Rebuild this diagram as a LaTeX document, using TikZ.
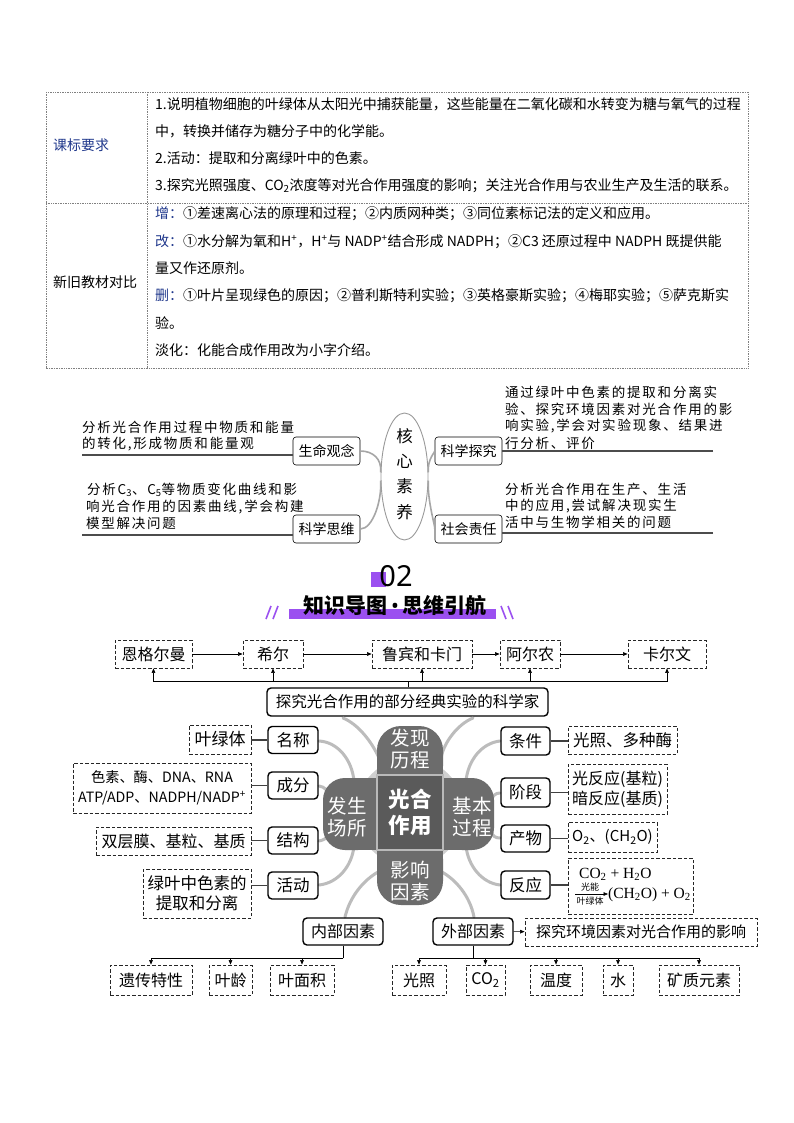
\documentclass[tikz,border=0pt]{standalone}
\usepackage{fontspec}
\setmainfont{Noto Sans CJK SC}
\newfontfamily\litfont[LetterSpace=13]{Noto Sans CJK SC}
\newfontfamily\timesf{Liberation Serif}
\newfontfamily\latinsans{Noto Sans}
\usetikzlibrary{arrows.meta,shapes.geometric}
\newcommand\fsz[2]{\fontsize{#1}{#2}\selectfont}
\definecolor{navy}{RGB}{32,56,140}
\definecolor{purp}{RGB}{155,80,240}
\definecolor{petalc}{RGB}{108,108,108}
\definecolor{sqc}{RGB}{90,90,90}
\definecolor{tentc}{RGB}{188,188,188}
\begin{document}
\begin{tikzpicture}[x=1pt,y=-1pt,
  tabline/.style={densely dotted, gray, line width=0.7pt},
  tt/.style={anchor=west, inner sep=0pt, font=\fsz{14}{14}},
  lt/.style={anchor=west, inner sep=0pt, font=\litfont\fsz{13.5}{13.5}},
  litbox/.style={draw, rounded corners=3pt, line width=0.6pt, minimum width=67pt, minimum height=28pt, inner sep=0pt, font=\fsz{14}{14}},
  litline/.style={draw=black!70, line width=1.1pt},
  litcurve/.style={draw=gray!70, line width=1.6pt},
  dbox/.style={draw=black!85, dash pattern=on 3.5pt off 2pt, line width=0.8pt, inner sep=0pt, align=center},
  sbox/.style={draw, rounded corners=4pt, line width=1.4pt, inner sep=0pt, align=center},
  arr/.style={-{Triangle[length=4.5pt,width=3.6pt]}, line width=0.6pt},
  conn/.style={draw=black!75, line width=1.3pt},
  tent/.style={draw=tentc, line width=3pt, line cap=round},
  ptxt/.style={text=white, align=center, font=\fsz{19.5}{22}, inner sep=0pt}
]
\useasboundingbox (0,0) rectangle (794,1123);
\fill[white] (0,0) rectangle (794,1123);

% ---------------- table ----------------
\draw[tabline] (46,92) rectangle (748,368);
\draw[tabline] (147,92) -- (147,368);
\draw[tabline] (46,203) -- (748,203);
\node[tt, text=navy] (k1) at (53,145) {课标要求};
\node[tt] (k2) at (53,282) {新旧教材对比};
\node[tt] (a1) at (155,104) {1.说明植物细胞的叶绿体从太阳光中捕获能量，这些能量在二氧化碳和水转变为糖与氧气的过程};
\node[tt] (a2) at (155,131) {中，转换并储存为糖分子中的化学能。};
\node[tt] (a3) at (155,158) {2.活动：提取和分离绿叶中的色素。};
\node[tt] (a4) at (155,186) {3.探究光照强度、CO\textsubscript{2}浓度等对光合作用强度的影响；关注光合作用与农业生产及生活的联系。};
\node[tt] (b1) at (155,214) {{\color{navy}增：}①差速离心法的原理和过程；②内质网种类；③同位素标记法的定义和应用。};
\node[tt] (b2) at (155,242) {{\color{navy}改：}①水分解为氧和H\textsuperscript{+}，H\textsuperscript{+}与 NADP\textsuperscript{+}结合形成 NADPH；②C3 还原过程中 NADPH 既提供能};
\node[tt] (b3) at (155,268) {量又作还原剂。};
\node[tt] (b4) at (155,296) {{\color{navy}删：}①叶片呈现绿色的原因；②普利斯特利实验；③英格豪斯实验；④梅耶实验；⑤萨克斯实};
\node[tt] (b5) at (155,323) {验。};
\node[tt] (b6) at (155,350) {淡化：化能合成作用改为小字介绍。};

% ---------------- core literacy ----------------
\node[ellipse, draw=gray!80, line width=0.9pt, minimum width=47pt, minimum height=127pt, inner sep=0pt] (hx) at (404.5,476.5) {};
\node[align=center, font=\fsz{16.5}{25.3}, inner sep=0pt] (hxt) at (404.5,474) {核\\心\\素\\养};
\node[litbox] (sm) at (326.5,451) {生命观念};
\node[litbox] (kt) at (468.5,451) {科学探究};
\node[litbox] (sw) at (326.5,529) {科学思维};
\node[litbox] (sz) at (468.5,529) {社会责任};
\draw[litcurve] (sm.east) .. controls (373,451) and (382,459) .. (hx.170);
\draw[litcurve] (sw.east) .. controls (373,529) and (382,500) .. (hx.190);
\draw[litcurve] (kt.west) .. controls (436,451) and (427,459) .. (hx.10);
\draw[litcurve] (sz.west) .. controls (436,529) and (427,500) .. (hx.350);
\coordinate (l1) at (82,455);
\coordinate (l2) at (713,451);
\coordinate (l3) at (82,535);
\coordinate (l4) at (713,533);
\draw[litline] (l1) -- (l1 -| sm.west);
\draw[litline] (l2) -- (l2 -| kt.east);
\draw[litline] (l3) -- (l3 -| sw.west);
\draw[litline] (l4) -- (l4 -| sz.east);
\node[lt] (p1) at (82,427) {分析光合作用过程中物质和能量};
\node[lt] (p2) at (82,444) {的转化,形成物质和能量观};
\node[lt] (q1) at (505,392) {通过绿叶中色素的提取和分离实};
\node[lt] (q2) at (505,409) {验、探究环境因素对光合作用的影};
\node[lt] (q3) at (505,426) {响实验,学会对实验现象、结果进};
\node[lt] (q4) at (505,443) {行分析、评价};
\node[lt] (r1) at (87,490) {分析C\textsubscript{3}、C\textsubscript{5}等物质变化曲线和影};
\node[lt] (r2) at (86,507) {响光合作用的因素曲线,学会构建};
\node[lt] (r3) at (86,523) {模型解决问题};
\node[lt] (s1) at (505,489) {分析光合作用在生产、生活};
\node[lt] (s2) at (505,506) {中的应用,尝试解决现实生};
\node[lt] (s3) at (505,522) {活中与生物学相关的问题};

% ---------------- header ----------------
\fill[purp] (371,572) rectangle (386,587);
\node[font=\latinsans\fsz{29}{29}, inner sep=0pt] (n02) at (396,576) {02};
\fill[purp] (289,609) rectangle (496,619);
\node[font=\bfseries\fsz{21}{21}, inner sep=0pt] (ttl) at (395,606) {知识导图{\latinsans\bfseries\,•\,}思维引航};
\draw[purp, line width=1.6pt] (266,619) -- (271,606) (273,619) -- (278,606);
\draw[purp, line width=1.6pt] (501,606) -- (506,619) (508,606) -- (513,619);

% ---------------- mind map: scientists ----------------
\begin{scope}[every node/.append style={font=\fsz{16}{16}}]
\node[dbox, minimum width=77pt, minimum height=28pt] (eng) at (153.5,654) {恩格尔曼};
\node[dbox, minimum width=60pt, minimum height=28pt] (xier) at (273,654) {希尔};
\node[dbox, minimum width=100pt, minimum height=28pt] (lubin) at (422,654) {鲁宾和卡门};
\node[dbox, minimum width=60pt, minimum height=28pt] (aer) at (530,654) {阿尔农};
\node[dbox, minimum width=78pt, minimum height=28pt] (kaer) at (667,654) {卡尔文};
\end{scope}
\draw[arr] (eng) -- (xier);
\draw[arr] (xier) -- (lubin);
\draw[arr] (lubin) -- (aer);
\draw[arr] (aer) -- (kaer);
\node[sbox, minimum width=281pt, minimum height=28pt, font=\fsz{15.5}{15.5}] (tanjiu) at (407.5,702) {探究光合作用的部分经典实验的科学家};
\coordinate (hub) at (408,681);
\draw[line width=0.6pt] (tanjiu.north -| hub) -- (hub);
\foreach \n in {eng,xier,lubin,aer,kaer} \draw[arr] (hub) -| (\n.south);

% ---------------- tentacles ----------------
\draw[tent] (343,718) .. controls (358,724) and (372,742) .. (379,758);
\draw[tent] (473,718) .. controls (458,724) and (444,742) .. (441,758);
\draw[tent] (319,741) .. controls (338,742) and (352,760) .. (354,781);
\draw[tent] (319,786) .. controls (325,787) and (327,790) .. (329,795);
\draw[tent] (319,841) .. controls (324,840) and (327,838) .. (329,834);
\draw[tent] (319,885) .. controls (338,883) and (352,866) .. (354,846);
\draw[tent] (378,872) .. controls (364,880) and (350,896) .. (345,917);
\draw[tent] (500,741) .. controls (482,743) and (468,760) .. (466,781);
\draw[tent] (500,793) .. controls (495,793) and (493,796) .. (491,800);
\draw[tent] (500,838) .. controls (495,838) and (493,836) .. (491,832);
\draw[tent] (500,885) .. controls (482,883) and (468,866) .. (466,846);
\draw[tent] (442,872) .. controls (456,880) and (470,896) .. (474,917);

% ---------------- central flower ----------------
\fill[gray!38] (410,812) circle (54);
\fill[petalc, rounded corners=24pt] (377,726) rectangle (443,790);
\fill[petalc] (377,760) rectangle (443,790);
\fill[petalc, rounded corners=22pt] (323,778) rectangle (380,850);
\fill[petalc] (350,778) rectangle (380,850);
\fill[petalc, rounded corners=22pt] (440,778) rectangle (494,850);
\fill[petalc] (440,778) rectangle (470,850);
\fill[petalc, rounded corners=24pt] (377,835) rectangle (443,905);
\fill[petalc] (377,835) rectangle (443,870);
\node[fill=sqc, draw=gray!55, line width=1.6pt, minimum width=66pt, minimum height=75pt, text=white, align=center, inner sep=0pt, font=\bfseries\fsz{21.5}{26}] (core) at (410,812.5) {光合\\作用};
\node[ptxt] (fx) at (410,749) {发现\\历程};
\node[ptxt] (fs) at (347,817) {发生\\场所};
\node[ptxt] (jb) at (472,817) {基本\\过程};
\node[ptxt] (yx) at (410,881) {影响\\因素};

% ---------------- left branches ----------------
\begin{scope}[every node/.append style={font=\fsz{16.5}{16.5}}]
\node[sbox, minimum width=50pt, minimum height=27pt] (mc) at (293,740) {名称};
\node[sbox, minimum width=50pt, minimum height=27pt] (cf) at (293,785.5) {成分};
\node[sbox, minimum width=50pt, minimum height=27pt] (jg) at (293,840.5) {结构};
\node[sbox, minimum width=50pt, minimum height=27pt] (hd) at (293,885.5) {活动};
\node[sbox, minimum width=49pt, minimum height=28pt] (tj) at (525.5,741) {条件};
\node[sbox, minimum width=49pt, minimum height=29pt] (jd) at (525.5,792.5) {阶段};
\node[sbox, minimum width=49pt, minimum height=27pt] (cw) at (525.5,838.5) {产物};
\node[sbox, minimum width=49pt, minimum height=28pt] (fy) at (525.5,885) {反应};
\end{scope}
\node[dbox, minimum width=62pt, minimum height=29pt, font=\fsz{17}{17}] (ylt1) at (220,739.5) {叶绿体};
\node[dbox, minimum width=178pt, minimum height=50pt, font=\fsz{14.2}{20}] (sesu) at (162,788) {色素、酶、DNA、RNA\\ATP/ADP、NADPH/NADP\textsuperscript{+}};
\node[dbox, minimum width=155pt, minimum height=28pt, font=\fsz{16}{16}] (scm) at (173.5,841) {双层膜、基粒、基质};
\node[dbox, minimum width=108pt, minimum height=49pt, font=\fsz{16.5}{20}] (lvye) at (197,893.5) {绿叶中色素的\\提取和分离};
\draw[conn] (mc.west) -- (mc.west -| ylt1.east);
\draw[conn] (cf.west) -- (cf.west -| sesu.east);
\draw[conn] (jg.west) -- (jg.west -| scm.east);
\draw[conn] (hd.west) -- (hd.west -| lvye.east);

% ---------------- right branches ----------------
\node[dbox, minimum width=109pt, minimum height=28pt, font=\fsz{16.5}{16.5}] (gzm) at (622.5,740) {光照、多种酶};
\node[dbox, minimum width=99pt, minimum height=50pt, font=\fsz{16}{20}] (fyjd) at (617.5,789) {光反应(基粒)\\暗反应(基质)};
\node[dbox, minimum width=89pt, minimum height=30pt, font=\fsz{15}{15}] (cwo) at (612.5,837) {O\textsubscript{2}、(CH\textsubscript{2}O)};
\node[dbox, minimum width=125pt, minimum height=56pt] (rxb) at (630.5,886) {};
\draw[conn] (tj.east) -- (tj.east -| gzm.west);
\draw[conn] (jd.east) -- (jd.east -| fyjd.west);
\draw[conn] (cw.east) -- (cw.east -| cwo.west);
\draw[conn] (fy.east) -- (fy.east -| rxb.west);
\node[anchor=west, inner sep=0pt, font=\timesf\fsz{15.5}{15.5}] (rx1) at (579,874) {CO\textsubscript{2} + H\textsubscript{2}O};
\node[anchor=west, inner sep=0pt, font=\timesf\fsz{15.5}{15.5}] (rx2) at (608,895) {(CH\textsubscript{2}O) + O\textsubscript{2}};
\coordinate (rxa) at (575,894);
\draw[arr] (rxa) -- (rxa -| rx2.west);
\node[inner sep=0pt, font=\fsz{9}{9}] (gn) at (590,887) {光能};
\node[inner sep=0pt, font=\fsz{9}{9}] (ylt2) at (590,901) {叶绿体};

% ---------------- factors ----------------
\node[sbox, minimum width=80pt, minimum height=27pt, font=\fsz{16}{16}] (neibu) at (343,931.5) {内部因素};
\node[sbox, minimum width=80pt, minimum height=27pt, font=\fsz{16}{16}] (waibu) at (473,931.5) {外部因素};
\node[dbox, minimum width=232pt, minimum height=28pt, font=\fsz{15}{15}] (tjhj) at (641,932) {探究环境因素对光合作用的影响};
\draw[arr] (waibu) -- (tjhj);
\begin{scope}[every node/.append style={font=\fsz{16}{16}}]
\node[dbox, minimum width=82pt, minimum height=30pt] (yc) at (151,980) {遗传特性};
\node[dbox, minimum width=43pt, minimum height=30pt] (yl) at (230.5,980) {叶龄};
\node[dbox, minimum width=64pt, minimum height=30pt] (ymj) at (302,980) {叶面积};
\node[dbox, minimum width=54pt, minimum height=30pt] (gz2) at (419,980) {光照};
\node[dbox, minimum width=39pt, minimum height=30pt] (co2) at (485.5,980) {CO\textsubscript{2}};
\node[dbox, minimum width=52pt, minimum height=30pt] (wd) at (556,980) {温度};
\node[dbox, minimum width=30pt, minimum height=30pt] (sh) at (618,980) {水};
\node[dbox, minimum width=80pt, minimum height=30pt] (kz) at (699,980) {矿质元素};
\end{scope}
\coordinate (nhub) at (343,958);
\coordinate (whub) at (473,958);
\draw[line width=0.6pt] (neibu.south) -- (nhub);
\draw[line width=0.6pt] (waibu.south) -- (whub);
\foreach \n in {yc,yl,ymj} \draw[arr] (nhub) -| (\n.north);
\foreach \n in {gz2,co2,wd,sh,kz} \draw[arr] (whub) -| (\n.north);
\end{tikzpicture}
\end{document}
